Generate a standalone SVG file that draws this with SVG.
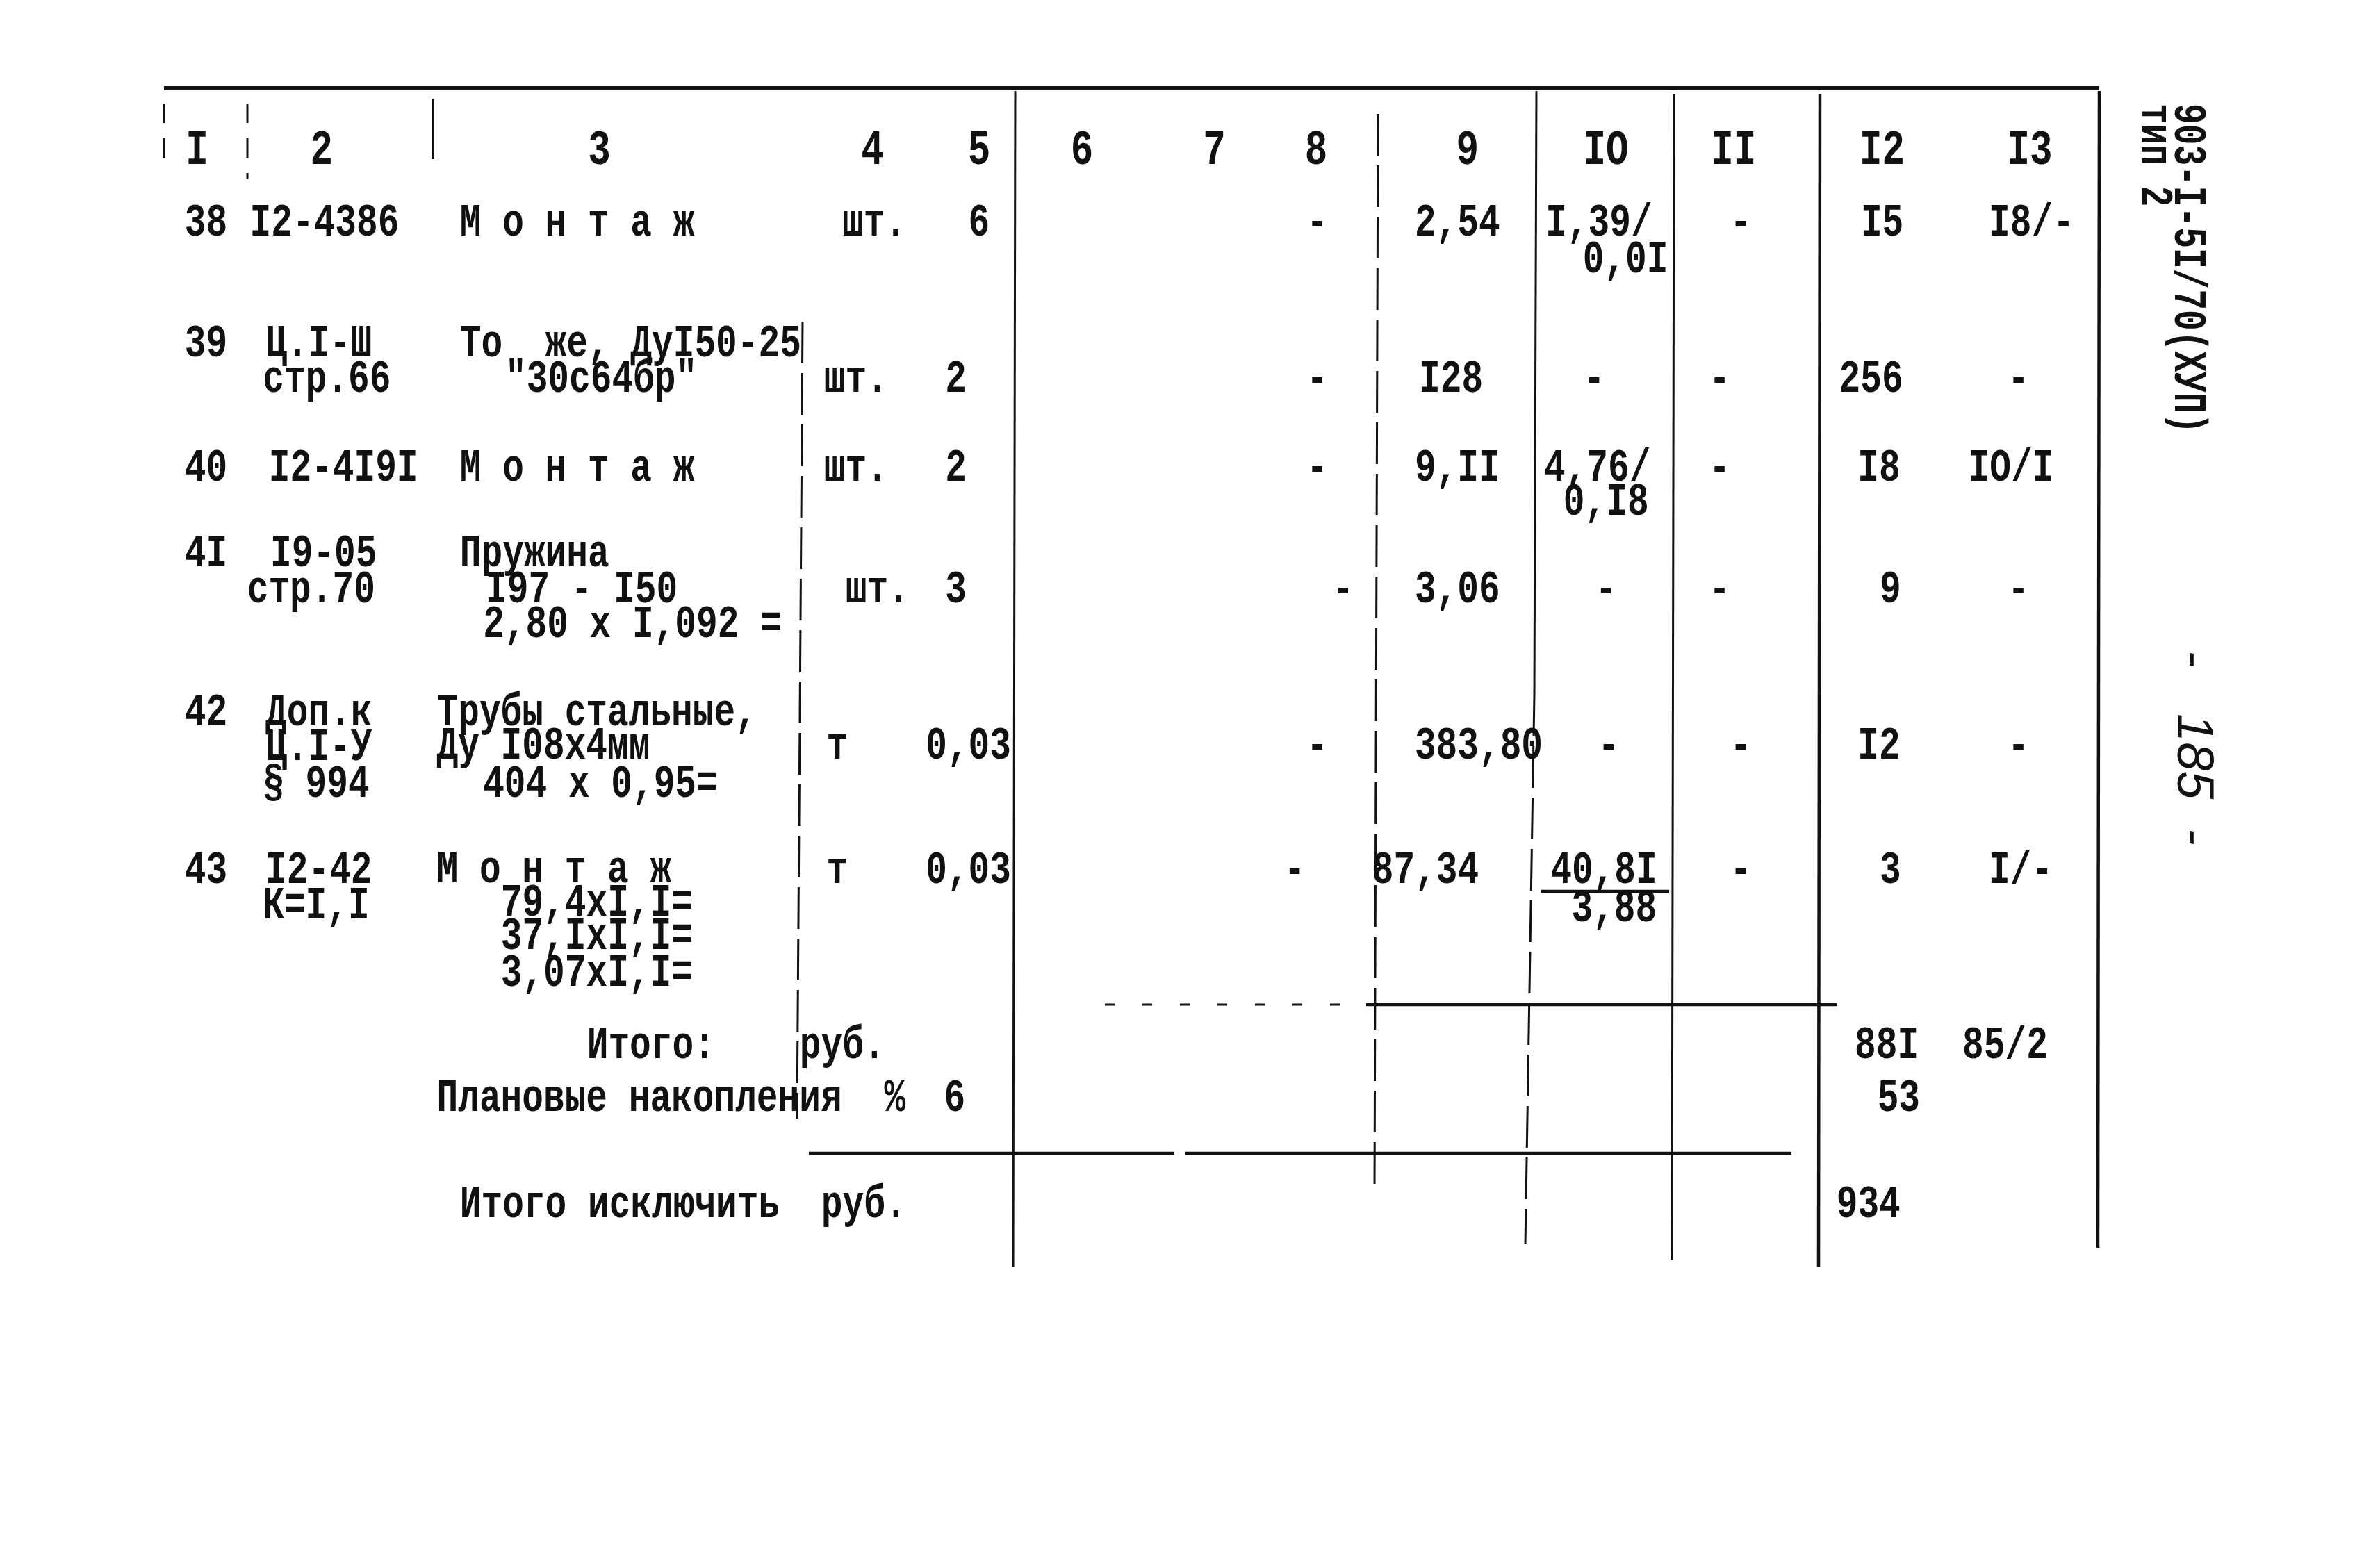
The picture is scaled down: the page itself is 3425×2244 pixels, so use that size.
<svg xmlns="http://www.w3.org/2000/svg" width="3425" height="2244" viewBox="0 0 3425 2244">
<style>
.t{font-family:"Liberation Mono","DejaVu Sans Mono",monospace;font-weight:bold;font-size:66px;fill:#111}
.h{font-size:70px}
.c{text-anchor:middle}
.ln{stroke:#111;stroke-width:3;fill:none}
.th{stroke-width:6}
.md{stroke-width:4.5}
.dl{stroke-dasharray:60 14}
.ds{stroke-dasharray:28 22}
.sp{stroke-dasharray:14 40}
.r{font-family:"Liberation Mono","DejaVu Sans Mono",monospace;font-weight:bold;font-size:66px;fill:#111}
.hw{font-family:"Liberation Sans","DejaVu Sans",sans-serif;font-style:italic;font-size:74px;fill:#111}
</style>
<rect width="3425" height="2244" fill="#fff"/>
<g id="connectors">
  <line class="ln th" x1="236" y1="127" x2="3021" y2="127"/>
  <line class="ln ds" x1="236" y1="149" x2="236" y2="240"/>
  <line class="ln ds" x1="356" y1="149" x2="356" y2="258"/>
  <line class="ln" x1="623" y1="142" x2="623" y2="229"/>
  <line class="ln dl" x1="1155" y1="463" x2="1147" y2="1610"/>
  <line class="ln" x1="1461" y1="131" x2="1458" y2="1824"/>
  <line class="ln dl" x1="1983" y1="164" x2="1978" y2="1715"/>
  <line class="ln" x1="2211" y1="131" x2="2208" y2="1000"/>
  <line class="ln dl" x1="2208" y1="1000" x2="2195" y2="1791"/>
  <line class="ln" x1="2409" y1="135" x2="2406" y2="1813"/>
  <line class="ln md" x1="2619" y1="135" x2="2617" y2="1824"/>
  <line class="ln md" x1="3021" y1="131" x2="3019" y2="1796"/>
  <line class="ln sp" x1="1590" y1="1446" x2="1966" y2="1446"/>
  <line class="ln md" x1="1966" y1="1446" x2="2643" y2="1446"/>
  <line class="ln md" x1="1164" y1="1660" x2="1690" y2="1660"/>
  <line class="ln md" x1="1706" y1="1660" x2="2578" y2="1660"/>
  <line class="ln md" x1="2218" y1="1283" x2="2402" y2="1283"/>
</g>
<g transform="scale(0.775,1)">
  <g id="header" class="t h c">
    <text x="366" y="236">I</text>
    <text x="597" y="236">2</text>
    <text x="1113" y="236">3</text>
    <text x="1620" y="236">4</text>
    <text x="1818" y="236">5</text>
    <text x="2009" y="236">6</text>
    <text x="2255" y="236">7</text>
    <text x="2444" y="236">8</text>
    <text x="2725" y="236">9</text>
    <text x="2982" y="236">IO</text>
    <text x="3219" y="236">II</text>
    <text x="3495" y="236">I2</text>
    <text x="3769" y="236">I3</text>
  </g>
  <g id="row38" class="t">
    <text x="343" y="339">38</text>
    <text x="464" y="339">I2-4386</text>
    <text x="854" y="339">М о н т а ж</text>
    <text x="1564" y="339">шт.</text>
    <text class="c" x="1818" y="339">6</text>
    <text class="c" x="2446" y="339">-</text>
    <text x="2627" y="339">2,54</text>
    <text x="2870" y="339">I,39/</text>
    <text x="2939" y="392">0,0I</text>
    <text class="c" x="3232" y="339">-</text>
    <text class="c" x="3495" y="339">I5</text>
    <text x="3693" y="339">I8/-</text>
  </g>
  <g id="row39" class="t">
    <text x="343" y="513">39</text>
    <text x="493" y="513">Ц.I-Ш</text>
    <text x="488" y="564">стр.66</text>
    <text x="854" y="513" xml:space="preserve">То  же, ДуI50-25</text>
    <text x="938" y="564">"30с64бр"</text>
    <text x="1530" y="564">шт.</text>
    <text class="c" x="1775" y="564">2</text>
    <text class="c" x="2446" y="564">-</text>
    <text x="2635" y="564">I28</text>
    <text class="c" x="2960" y="564">-</text>
    <text class="c" x="3193" y="564">-</text>
    <text x="3415" y="564">256</text>
    <text class="c" x="3748" y="564">-</text>
  </g>
  <g id="row40" class="t">
    <text x="343" y="692">40</text>
    <text x="499" y="692">I2-4I9I</text>
    <text x="854" y="692">М о н т а ж</text>
    <text x="1530" y="692">шт.</text>
    <text class="c" x="1775" y="692">2</text>
    <text class="c" x="2446" y="692">-</text>
    <text x="2627" y="692">9,II</text>
    <text x="2867" y="692">4,76/</text>
    <text x="2903" y="741">0,I8</text>
    <text class="c" x="3193" y="692">-</text>
    <text class="c" x="3489" y="692">I8</text>
    <text x="3655" y="692">IO/I</text>
  </g>
  <g id="row41" class="t">
    <text x="343" y="815">4I</text>
    <text x="502" y="815">I9-05</text>
    <text x="459" y="867">стр.70</text>
    <text x="854" y="815">Пружина</text>
    <text x="902" y="867">I97 - I50</text>
    <text x="897" y="917">2,80 x I,092 =</text>
    <text x="1570" y="867">шт.</text>
    <text class="c" x="1775" y="867">3</text>
    <text class="c" x="2494" y="867">-</text>
    <text x="2627" y="867">3,06</text>
    <text class="c" x="2982" y="867">-</text>
    <text class="c" x="3193" y="867">-</text>
    <text class="c" x="3510" y="867">9</text>
    <text class="c" x="3748" y="867">-</text>
  </g>
  <g id="row42" class="t">
    <text x="343" y="1044">42</text>
    <text x="493" y="1044">Доп.к</text>
    <text x="493" y="1094">Ц.I-У</text>
    <text x="488" y="1147">§ 994</text>
    <text x="811" y="1044">Трубы стальные,</text>
    <text x="811" y="1092">Ду I08x4мм</text>
    <text x="897" y="1147">404 x 0,95=</text>
    <text x="1535" y="1092">т</text>
    <text x="1719" y="1092">0,03</text>
    <text class="c" x="2446" y="1092">-</text>
    <text x="2627" y="1092">383,80</text>
    <text class="c" x="2987" y="1092">-</text>
    <text class="c" x="3232" y="1092">-</text>
    <text class="c" x="3489" y="1092">I2</text>
    <text class="c" x="3748" y="1092">-</text>
  </g>
  <g id="row43" class="t">
    <text x="343" y="1271">43</text>
    <text x="493" y="1271">I2-42</text>
    <text x="488" y="1322">К=I,I</text>
    <text x="811" y="1270">М о н т а ж</text>
    <text x="930" y="1318">79,4xI,I=</text>
    <text x="930" y="1366">37,IxI,I=</text>
    <text x="930" y="1419">3,07xI,I=</text>
    <text x="1535" y="1271">т</text>
    <text x="1719" y="1271">0,03</text>
    <text class="c" x="2404" y="1271">-</text>
    <text x="2548" y="1271">87,34</text>
    <text x="2879" y="1271">40,8I</text>
    <text x="2918" y="1326">3,88</text>
    <text class="c" x="3232" y="1271">-</text>
    <text class="c" x="3510" y="1271">3</text>
    <text x="3693" y="1271">I/-</text>
  </g>
  <g id="totals" class="t">
    <text x="1090" y="1523">Итого:</text>
    <text x="1485" y="1523">руб.</text>
    <text x="3444" y="1523">88I</text>
    <text x="3644" y="1523">85/2</text>
    <text x="811" y="1599">Плановые накопления</text>
    <text x="1642" y="1599">%</text>
    <text x="1753" y="1599">6</text>
    <text x="3486" y="1599">53</text>
    <text x="854" y="1752">Итого исключить</text>
    <text x="1525" y="1752">руб.</text>
    <text x="3410" y="1752">934</text>
  </g>
</g>
<g id="side">
  <text class="r" transform="translate(3130,149) rotate(90) scale(0.75,1)">903-I-5I/70(ХУП)</text>
  <text class="r" transform="translate(3082,149) rotate(90) scale(0.75,1)">тип 2</text>
  <text class="hw" transform="translate(3134,936) rotate(90)">-</text>
  <text class="hw" transform="translate(3134,1027) rotate(90)">185</text>
  <text class="hw" transform="translate(3134,1192) rotate(90)">-</text>
</g>
</svg>
